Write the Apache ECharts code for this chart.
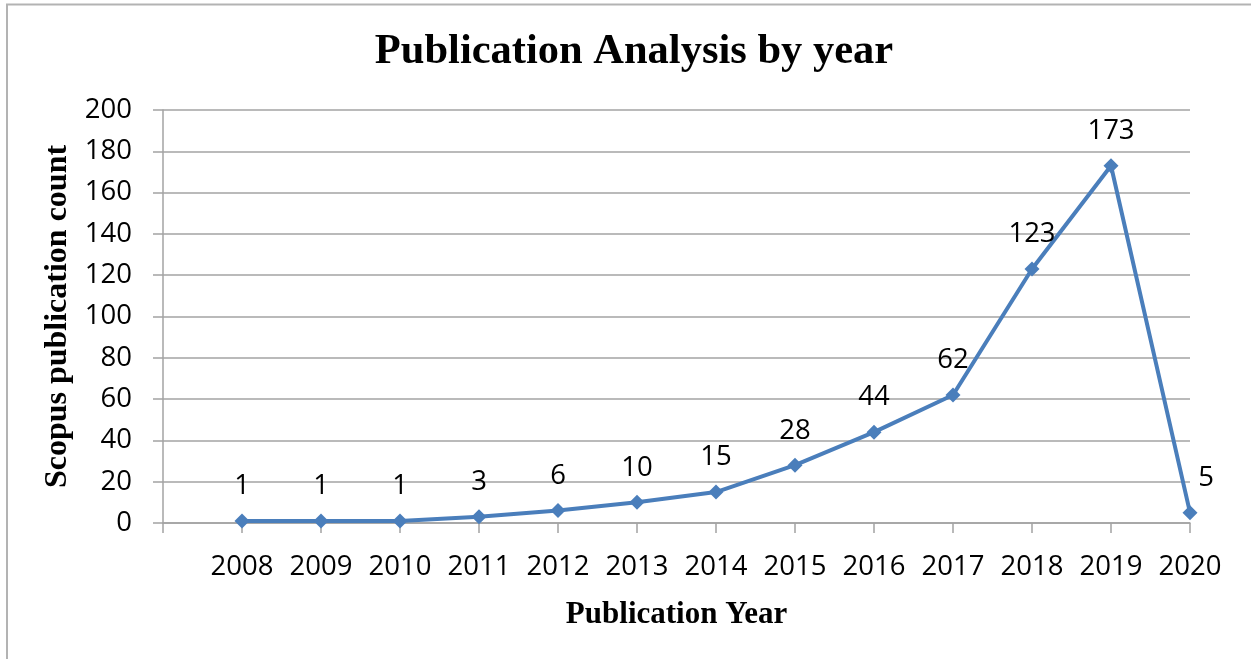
<!DOCTYPE html>
<html>
<head>
<meta charset="utf-8">
<script src="https://cdn.jsdelivr.net/npm/echarts@6/dist/echarts.min.js"></script>
<style>
  html, body { margin: 0; padding: 0; background: #ffffff; }
  #chart { width: 1251px; height: 659px; }
</style>
</head>
<body>
<div id="chart"></div>
<script>
// Publications per year indexed in Scopus
const years = ['2008', '2009', '2010', '2011', '2012', '2013', '2014', '2015', '2016', '2017', '2018', '2019', '2020'];
const counts = [1, 1, 1, 3, 6, 10, 15, 28, 44, 62, 123, 173, 5];
const yTicks = [0, 20, 40, 60, 80, 100, 120, 140, 160, 180, 200];

const LINE_BLUE = '#4a7ebb';
const GRID_GREY = '#a3a3a3';
const SANS = '"Open Sans", "Noto Sans", sans-serif';
const SERIF = '"Liberation Serif", "DejaVu Serif", serif';

// A blank leading category leaves one empty slot between the value axis and 2008
const categories = [''].concat(years);
const seriesData = [null].concat(counts).map(function (v, i, arr) {
  if (i === arr.length - 1) {
    return { value: v, label: { offset: [16, 0] } };
  }
  return v;
});

const chart = echarts.init(document.getElementById('chart'), null, { renderer: 'canvas' });

chart.setOption({
  backgroundColor: '#ffffff',
  animation: false,
  title: {
    text: 'Publication Analysis by year',
    left: 629,
    top: 26,
    textAlign: 'center',
    textStyle: { fontFamily: SERIF, fontWeight: 'bold', fontSize: 42.5, color: '#000' }
  },
  graphic: [
    {
      type: 'polyline',
      silent: true,
      shape: { points: [[7, 700], [7, 4.5], [1300, 4.5]] },
      style: { stroke: '#b3b3b3', lineWidth: 2, fill: null }
    }
  ],
  grid: { left: 163, right: 61, top: 110, bottom: 136, containLabel: false },
  xAxis: {
    type: 'category',
    data: categories,
    boundaryGap: false,
    name: 'Publication Year',
    nameLocation: 'middle',
    nameGap: 76,
    nameTextStyle: { fontFamily: SERIF, fontWeight: 'bold', fontSize: 31, color: '#000' },
    axisLine: { lineStyle: { color: GRID_GREY, width: 1.5 } },
    axisTick: { show: true, alignWithLabel: true, length: 10, interval: 0, lineStyle: { color: GRID_GREY, width: 1.5 } },
    axisLabel: { interval: 0, margin: 30, fontFamily: SANS, fontSize: 27.5, color: '#000' },
    splitLine: { show: false }
  },
  yAxis: {
    type: 'value',
    min: yTicks[0],
    max: yTicks[yTicks.length - 1],
    interval: yTicks[1] - yTicks[0],
    name: 'Scopus publication count',
    nameLocation: 'middle',
    nameGap: 88,
    nameRotate: 90,
    nameTextStyle: { fontFamily: SERIF, fontWeight: 'bold', fontSize: 32, color: '#000' },
    axisLine: { show: true, lineStyle: { color: GRID_GREY, width: 1.5 } },
    axisTick: { show: true, length: 10, lineStyle: { color: GRID_GREY, width: 1.5 } },
    axisLabel: { margin: 31, fontFamily: SANS, fontSize: 27.5, color: '#000' },
    splitLine: { show: true, lineStyle: { color: GRID_GREY, width: 1.5 } }
  },
  series: [
    {
      type: 'line',
      data: seriesData,
      connectNulls: false,
      symbol: 'diamond',
      symbolSize: 15,
      showAllSymbol: true,
      lineStyle: { color: LINE_BLUE, width: 4 },
      itemStyle: { color: LINE_BLUE },
      label: {
        show: true,
        position: 'top',
        distance: 13,
        fontFamily: SANS,
        fontSize: 27.5,
        color: '#000'
      }
    }
  ]
});
</script>
</body>
</html>
